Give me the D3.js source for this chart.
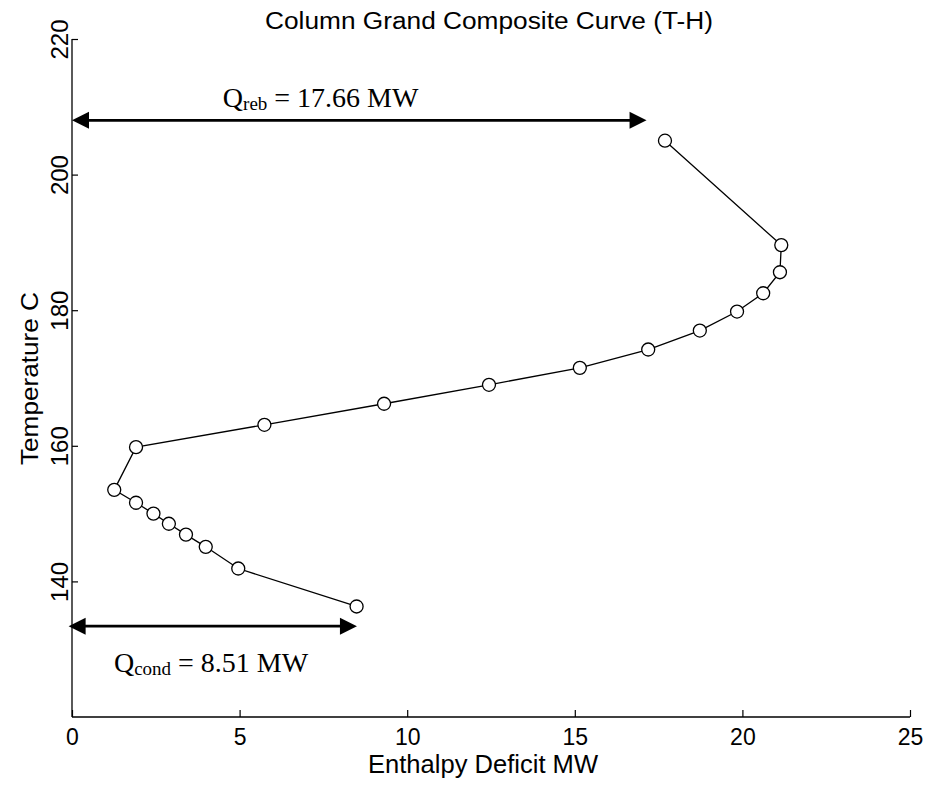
<!DOCTYPE html>
<html>
<head>
<meta charset="utf-8">
<script src="https://cdn.jsdelivr.net/npm/d3@7"></script>
<style>
  html, body { margin: 0; padding: 0; background: #fff; }
  svg { display: block; }
</style>
</head>
<body>
<div id="chart"></div>
<script>
// ---- Data ----
const enthalpy = [17.69, 21.16, 21.12, 20.62, 19.84, 18.73, 17.19, 15.15, 12.44, 9.31, 5.74, 1.91, 1.26, 1.91, 2.43, 2.89, 3.40, 3.99, 4.96, 8.49];
const temperature = [205.0, 189.6, 185.6, 182.5, 179.8, 177.0, 174.2, 171.5, 169.0, 166.2, 163.1, 159.8, 153.5, 151.6, 150.0, 148.5, 146.9, 145.1, 141.9, 136.3];
const xTicks = [0, 5, 10, 15, 20, 25];
const yTicks = [140, 160, 180, 200, 220];
const arrowLabels = ["Q", "Q"];
const arrowSubs = ["reb", "cond"];
const arrowTexts = [" = 17.66 MW", " = 8.51 MW"];
const arrowStart = [0, -0.1];
const arrowEnd = [17.14, 8.5];
const arrowTemp = [208.0, 133.4];
const arrowLabelX = [4.5, 1.25];
const arrowLabelT = [210.0, 126.7];
const titleText = "Column Grand Composite Curve (T-H)";
const xLabel = "Enthalpy Deficit MW";
const yLabel = "Temperature C";

// ---- Layout ----
const W = 927, H = 788;
const svg = d3.select("#chart").append("svg").attr("width", W).attr("height", H);

const x = d3.scaleLinear().domain([0, 25]).range([72, 910]);
const y = d3.scaleLinear().domain([120, 220]).range([717, 39]);

const sans = "Arial, 'Liberation Sans', Helvetica, sans-serif";
const serif = "'Times New Roman', 'Liberation Serif', Times, serif";

// Axes
const xAxis = d3.axisBottom(x).tickValues(xTicks).tickSize(-7).tickFormat(d3.format("d"));
const gx = svg.append("g").attr("transform", `translate(0,${y(120)})`).call(xAxis);
gx.select(".domain").attr("d", `M${x(0)},0H${x(25)}`).attr("stroke", "#000").attr("stroke-width", 1.3);
gx.selectAll(".tick line").attr("stroke", "#000").attr("stroke-width", 1.2);
gx.selectAll(".tick text").attr("font-family", sans).attr("font-size", 23).attr("fill", "#000").attr("dy", 0).attr("y", 28);

const yAxis = d3.axisLeft(y).tickValues(yTicks).tickSize(-6).tickFormat(d3.format("d"));
const gy = svg.append("g").attr("transform", `translate(${x(0)},0)`).call(yAxis);
gy.select(".domain").attr("d", `M0,${y(220)}V${y(120)}`).attr("stroke", "#000").attr("stroke-width", 1.3);
gy.selectAll(".tick line").attr("stroke", "#000").attr("stroke-width", 1.2);
gy.selectAll(".tick text")
  .attr("font-family", sans).attr("font-size", 24).attr("fill", "#000")
  .attr("x", null).attr("dy", null)
  .attr("text-anchor", "middle")
  .attr("transform", "translate(-4,0) rotate(-90)")
  .attr("y", 0);

// Title and axis labels
svg.append("text").attr("x", 489).attr("y", 29).attr("text-anchor", "middle")
  .attr("font-family", sans).attr("font-size", 23).attr("fill", "#000")
  .attr("textLength", 448).attr("lengthAdjust", "spacingAndGlyphs").text(titleText);
svg.append("text").attr("x", 483).attr("y", 773).attr("text-anchor", "middle")
  .attr("font-family", sans).attr("font-size", 25).attr("fill", "#000")
  .attr("textLength", 230).attr("lengthAdjust", "spacingAndGlyphs").text(xLabel);
svg.append("text").attr("transform", `translate(38,378.5) rotate(-90)`).attr("text-anchor", "middle")
  .attr("font-family", sans).attr("font-size", 23).attr("fill", "#000")
  .attr("textLength", 173).attr("lengthAdjust", "spacingAndGlyphs").text(yLabel);

// Curve
const pts = enthalpy.map((h, i) => [h, temperature[i]]);
svg.append("path").datum(pts)
  .attr("d", d3.line().x(d => x(d[0])).y(d => y(d[1])))
  .attr("fill", "none").attr("stroke", "#000").attr("stroke-width", 1.3);
svg.selectAll("circle.pt").data(pts).enter().append("circle")
  .attr("class", "pt")
  .attr("cx", d => x(d[0])).attr("cy", d => y(d[1])).attr("r", 6.5)
  .attr("fill", "#fff").attr("stroke", "#000").attr("stroke-width", 1.3);

// Double-headed arrows
const headLen = 17, headHalf = 8.5;
arrowTemp.forEach((t, i) => {
  const x0 = x(arrowStart[i]), x1 = x(arrowEnd[i]), yy = y(t);
  svg.append("line").attr("x1", x0 + headLen - 2).attr("x2", x1 - headLen + 2)
    .attr("y1", yy).attr("y2", yy).attr("stroke", "#000").attr("stroke-width", 2.8);
  svg.append("path")
    .attr("d", `M${x0},${yy}L${x0 + headLen},${yy - headHalf}L${x0 + headLen},${yy + headHalf}Z`)
    .attr("fill", "#000");
  svg.append("path")
    .attr("d", `M${x1},${yy}L${x1 - headLen},${yy - headHalf}L${x1 - headLen},${yy + headHalf}Z`)
    .attr("fill", "#000");
  const txt = svg.append("text").attr("x", x(arrowLabelX[i])).attr("y", y(arrowLabelT[i]))
    .attr("font-family", serif).attr("font-size", 28).attr("fill", "#000");
  txt.append("tspan").text(arrowLabels[i]);
  txt.append("tspan").attr("font-size", 19).attr("dy", 3).text(arrowSubs[i]);
  txt.append("tspan").attr("dy", -3).text(arrowTexts[i]);
});
</script>
</body>
</html>
